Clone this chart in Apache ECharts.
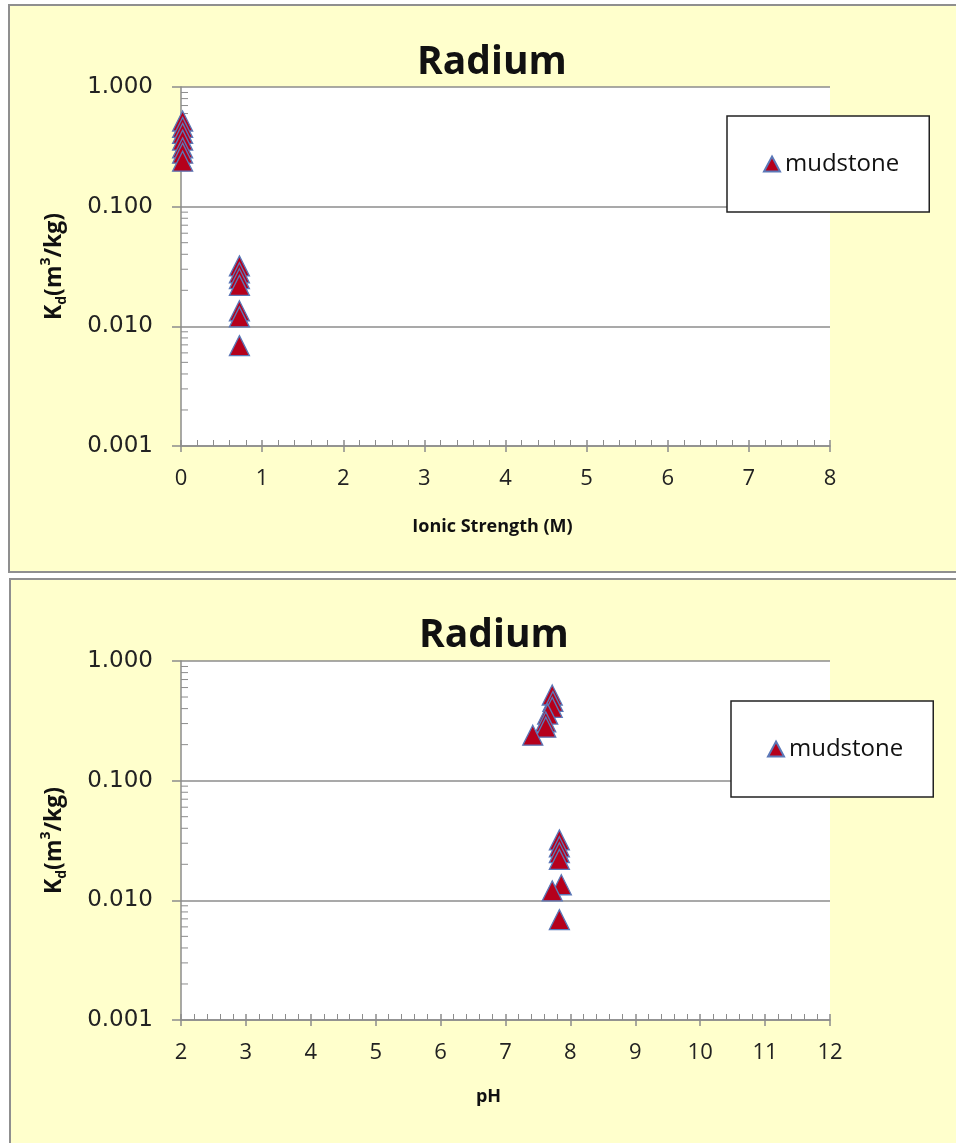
<!DOCTYPE html>
<html><head><meta charset="utf-8">
<script src="https://cdn.jsdelivr.net/npm/echarts@6/dist/echarts.min.js"></script>
<style>html,body{margin:0;padding:0;background:#fff}#c{width:956px;height:1143px}</style>
</head><body><div id="c"></div>
<script>
// ---------- data ----------
const seriesName = 'mudstone';
const chartTitle = 'Radium';
const kdValues = [0.52, 0.46, 0.41, 0.36, 0.31, 0.28, 0.24, 0.032, 0.028, 0.025, 0.022, 0.0135, 0.012, 0.0069];
const ionicStrength = [0.02, 0.02, 0.02, 0.02, 0.02, 0.02, 0.02, 0.72, 0.72, 0.72, 0.72, 0.72, 0.72, 0.72];
const pHValues = [7.72, 7.73, 7.72, 7.65, 7.62, 7.62, 7.42, 7.83, 7.83, 7.83, 7.83, 7.86, 7.72, 7.83];
const yMajorTicks = [0.001, 0.01, 0.1, 1];
const yMinorMultipliers = [2, 3, 4, 5, 6, 7, 8, 9];
const xName1 = 'Ionic Strength (M)';
const xName2 = 'pH';

// ---------- helpers ----------
const yMinorTicks = [];
yMajorTicks.slice(0, -1).forEach(d => yMinorMultipliers.forEach(m => yMinorTicks.push(+(m * d).toPrecision(3))));

const FONT = 'Open Sans';
const gridColor = '#8c8c8c';
const yellow = '#ffffcc';

const grids = [
  {left: 181, top: 87, width: 649, height: 359},
  {left: 181, top: 661, width: 649, height: 359}
];

function yAxisFor(gi) {
  return {
    type: 'log', logBase: 10, min: 0.001, max: 1, gridIndex: gi,
    name: '{k|K}{s|d}{k|(m}{p|3}{k|/kg)}',
    nameLocation: 'middle', nameRotate: 90, nameGap: 112,
    nameTextStyle: {
      rich: {
        k: {fontFamily: FONT, fontWeight: 'bold', fontSize: 23, color: '#111', lineHeight: 30, verticalAlign: 'middle'},
        s: {fontFamily: FONT, fontWeight: 'bold', fontSize: 14, color: '#111', lineHeight: 30, verticalAlign: 'bottom'},
        p: {fontFamily: FONT, fontWeight: 'bold', fontSize: 14, color: '#111', lineHeight: 30, verticalAlign: 'top'}
      }
    },
    axisLine: {show: true, lineStyle: {color: gridColor, width: 1.5}},
    axisTick: {show: true, length: 9, lineStyle: {color: gridColor, width: 1.5}},
    axisLabel: {margin: 28, fontFamily: 'DejaVu Sans', fontSize: 23, color: '#222',
      formatter: v => Number(v).toFixed(3)},
    splitLine: {show: true, lineStyle: {color: gridColor, width: 1.5}}
  };
}

function xAxesFor(gi, min, max, name, nameGap, shiftLeft) {
  const common = {type: 'value', gridIndex: gi, min: min, max: max, interval: 1, position: 'bottom'};
  return [
    Object.assign({}, common, {
      name: name, nameLocation: 'middle', nameGap: nameGap,
      nameTextStyle: {fontFamily: FONT, fontWeight: 'bold', fontSize: 18, color: '#111', padding: [0, shiftLeft * 2, 0, 0]},
      axisLine: {show: true, lineStyle: {color: gridColor, width: 1.5}},
      axisTick: {show: true, length: 6, lineStyle: {color: gridColor, width: 1.5}},
      axisLabel: {margin: 22, fontFamily: FONT, fontSize: 22, color: '#222'},
      splitLine: {show: false}
    }),
    Object.assign({}, common, {
      axisLine: {show: false},
      axisTick: {show: true, inside: true, length: 6, lineStyle: {color: gridColor, width: 1.5}},
      minorTick: {show: true, splitNumber: 5, length: 6, lineStyle: {color: gridColor, width: 1}},
      axisLabel: {show: false},
      splitLine: {show: false}
    })
  ];
}

const scatterStyle = {
  type: 'scatter', name: seriesName, symbol: 'triangle', symbolSize: [20, 20],
  itemStyle: {color: '#b5001c', borderColor: '#5b78b8', borderWidth: 1.3, opacity: 1},
  z: 5
};

function minorTickSeries(gi, xMin) {
  return {
    type: 'custom', name: 'yMinorTicks' + gi, xAxisIndex: gi * 2, yAxisIndex: gi,
    silent: true, clip: false, z: 3,
    data: yMinorTicks.map(v => [xMin, v]),
    renderItem: (params, api) => {
      const p = api.coord([api.value(0), api.value(1)]);
      return {type: 'line', shape: {x1: p[0], y1: p[1], x2: p[0] + 7, y2: p[1]},
        style: {stroke: gridColor, lineWidth: 1}};
    }
  };
}

function legendFor(left, top) {
  return {
    data: [seriesName], left: left, top: top, orient: 'vertical',
    backgroundColor: '#fff', borderColor: '#222', borderWidth: 1.5,
    padding: [35, 30, 35, 36], itemWidth: 16, itemHeight: 15, itemGap: 5,
    icon: 'triangle',
    textStyle: {fontFamily: FONT, fontSize: 24, color: '#111', lineHeight: 26}
  };
}

const chart = echarts.init(document.getElementById('c'), null, {renderer: 'canvas'});
chart.setOption({
  backgroundColor: '#ffffff',
  animation: false,
  graphic: [
    {type: 'rect', z: -10, shape: {x: 9, y: 5, width: 960, height: 567},
      style: {fill: yellow, stroke: '#8f8f8f', lineWidth: 2}},
    {type: 'rect', z: -10, shape: {x: 10, y: 579, width: 960, height: 580},
      style: {fill: yellow, stroke: '#8f8f8f', lineWidth: 2}}
  ],
  title: [
    {text: chartTitle, left: 412, top: 38, textStyle: {fontFamily: FONT, fontWeight: 'bold', fontSize: 39, color: '#111'}},
    {text: chartTitle, left: 414, top: 611, textStyle: {fontFamily: FONT, fontWeight: 'bold', fontSize: 39, color: '#111'}}
  ],
  legend: [legendFor(727, 116), legendFor(731, 701)],
  grid: grids.map(g => Object.assign({show: true, backgroundColor: '#ffffff', borderWidth: 0, containLabel: false}, g)),
  xAxis: [].concat(xAxesFor(0, 0, 8, xName1, 72, 13), xAxesFor(1, 2, 12, xName2, 68, 17)),
  yAxis: [yAxisFor(0), yAxisFor(1)],
  series: [
    Object.assign({}, scatterStyle, {xAxisIndex: 0, yAxisIndex: 0,
      data: kdValues.map((v, i) => [ionicStrength[i], v])}),
    Object.assign({}, scatterStyle, {xAxisIndex: 2, yAxisIndex: 1,
      data: kdValues.map((v, i) => [pHValues[i], v])}),
    minorTickSeries(0, 0),
    minorTickSeries(1, 2)
  ]
});
</script></body></html>
